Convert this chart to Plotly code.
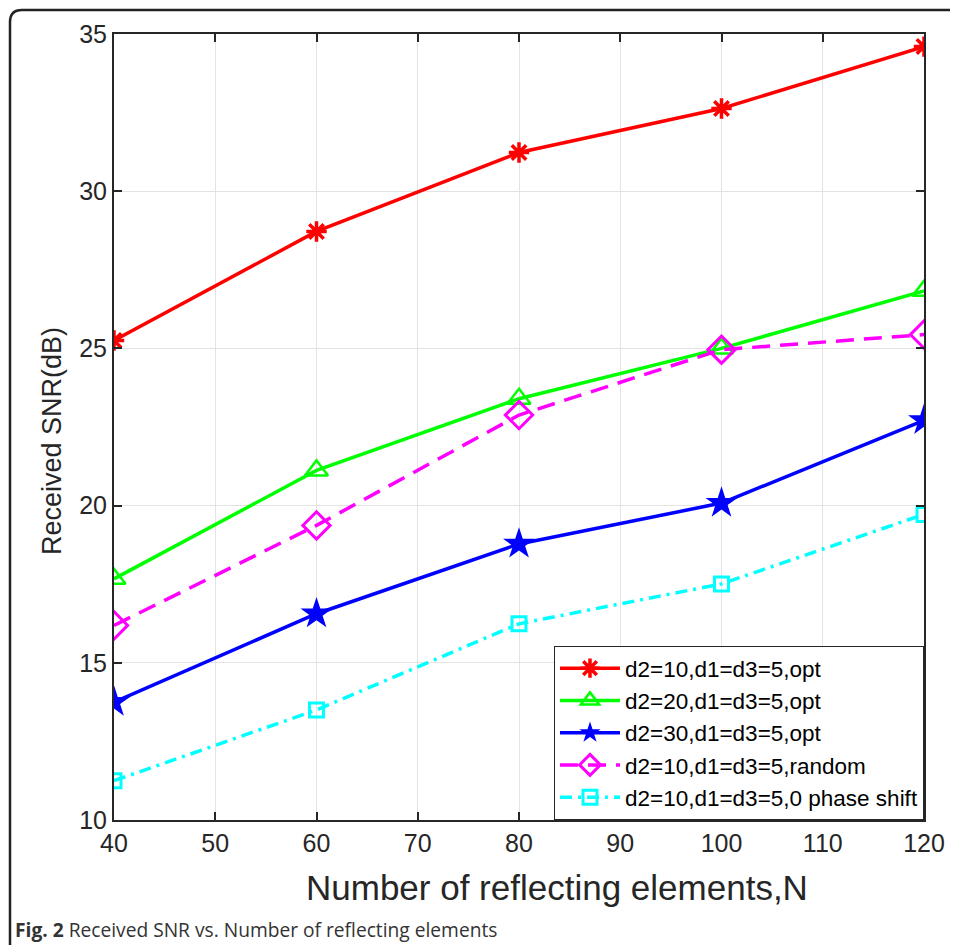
import plotly.graph_objects as go

N = [40, 60, 80, 100, 120]
snr_d2_10_opt = [25.25, 28.72, 31.23, 32.63, 34.6]
snr_d2_20_opt = [17.67, 21.12, 23.4, 25.0, 26.83]
snr_d2_30_opt = [13.75, 16.56, 18.78, 20.08, 22.71]
snr_d2_10_random = [16.19, 19.37, 22.88, 24.96, 25.44]
snr_d2_10_zero = [11.25, 13.5, 16.24, 17.51, 19.72]

names = ["d2=10,d1=d3=5,opt", "d2=20,d1=d3=5,opt", "d2=30,d1=d3=5,opt",
         "d2=10,d1=d3=5,random", "d2=10,d1=d3=5,0 phase shift"]
xticks = [40, 50, 60, 70, 80, 90, 100, 110, 120]
yticks = [10, 15, 20, 25, 30, 35]

fig = go.Figure()
series = [
    (snr_d2_10_opt, "#ff0000", "solid", "asterisk-open", 17, 3.5),
    (snr_d2_20_opt, "#00ff00", "solid", "triangle-up-open", 20, 2.5),
    (snr_d2_30_opt, "#0000ff", "solid", "star", 24, 0),
    (snr_d2_10_random, "#ff00ff", "18px,10px", "diamond-open", 21, 3),
    (snr_d2_10_zero, "#00ffff", "12px,6px,3px,6px", "square-open", 14, 3),
]
for (vals, col, dash, sym, sz, mlw), nm in zip(series, names):
    fig.add_trace(go.Scatter(
        x=N, y=vals, name=nm, mode="lines+markers",
        line=dict(color=col, width=3.5, dash=dash),
        marker=dict(symbol=sym, size=sz, color=col, line=dict(color=col, width=mlw)),
    ))

OFF = 8  # page body margin
W, H = 958 - OFF, 945 - OFF
L, T = 114 - OFF, 34 - OFF
pw, ph = 810, 786
R = W - L - pw
B = H - T - ph

def px(x):  # page pixel -> paper x
    return (x - OFF - L) / pw

def py(y):  # page pixel -> paper y
    return (H - B - (y - OFF)) / ph

# rounded outer frame
x0, y0 = px(10), py(10)
x1, y1 = px(975), py(960)
rx, ry = 12 / pw, 12 / ph
path = (f"M {x0},{y1} L {x0},{y0 - ry} Q {x0},{y0} {x0 + rx},{y0} "
        f"L {x1},{y0}")
shapes = [dict(type="path", xref="paper", yref="paper", path=path,
               line=dict(color="#222222", width=2.5), layer="above")]

fig.update_layout(
    width=W, height=H,
    margin=dict(l=L, r=R, t=T, b=B, autoexpand=False),
    paper_bgcolor="white", plot_bgcolor="white",
    font=dict(family="Liberation Sans, Arial", color="#262626"),
    showlegend=True,
    legend=dict(x=1, y=0, xanchor="right", yanchor="bottom",
                bgcolor="white", bordercolor="#262626", borderwidth=1,
                font=dict(size=22.5, color="#000000"),
                tracegroupgap=0, itemwidth=60),
    shapes=shapes,
    annotations=[
        dict(xref="paper", yref="paper", x=px(13), y=py(929),
             xanchor="left", yanchor="middle", showarrow=False,
             text="<b>Fig. 2</b> Received SNR vs. Number of reflecting elements",
             font=dict(family="Open Sans", size=19.2, color="#333333")),
        dict(xref="paper", yref="paper", x=px(557), y=py(887),
             xanchor="center", yanchor="middle", showarrow=False,
             text="Number of reflecting elements,N",
             font=dict(size=35, color="#262626")),
        dict(xref="paper", yref="paper", x=px(52), y=py(441),
             xanchor="center", yanchor="middle", showarrow=False, textangle=-90,
             text="Received SNR(dB)",
             font=dict(size=27, color="#262626")),
    ],
)
fig.update_xaxes(range=[40, 120], tickvals=xticks, ticktext=[str(v) for v in xticks],
                 showgrid=True, gridcolor="#e3e3e3", gridwidth=1,
                 showline=True, linecolor="#262626", linewidth=2, mirror="ticks",
                 ticks="inside", ticklen=8, tickwidth=2, tickcolor="#262626",
                 tickfont=dict(size=25), zeroline=False)
fig.update_yaxes(range=[10, 35], tickvals=yticks, ticktext=[str(v) for v in yticks],
                 showgrid=True, gridcolor="#e3e3e3", gridwidth=1,
                 showline=True, linecolor="#262626", linewidth=2, mirror="ticks",
                 ticks="inside", ticklen=8, tickwidth=2, tickcolor="#262626",
                 tickfont=dict(size=25), zeroline=False)

fig.write_html("out.html")
